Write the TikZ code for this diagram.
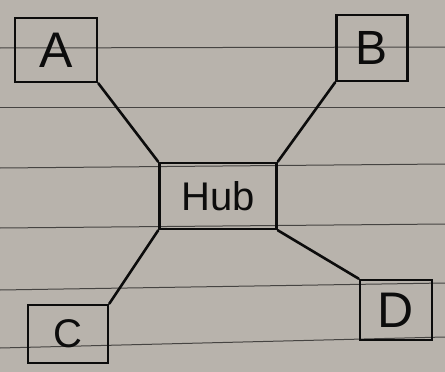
\documentclass[tikz,border=0pt]{standalone}
\usepackage{fontspec}
\setmainfont{Liberation Sans}
\definecolor{paper}{RGB}{184,179,172}
\definecolor{rule}{RGB}{70,68,66}
\definecolor{ink}{RGB}{12,12,12}
\begin{document}
\begin{tikzpicture}[x=1pt,y=-1pt,
  station/.style={draw=ink,line width=2.6pt,rectangle,inner sep=0pt,text=ink},
  link/.style={draw=ink,line width=2.6pt,line cap=round},
  ruling/.style={draw=rule,line width=1pt}]
\useasboundingbox (0,0) rectangle (445,372);
\fill[paper] (0,0) rectangle (445,372);
% ruled lines of the paper
\draw[ruling] (0,48) -- (445,47);
\draw[ruling] (0,107) -- (445,107);
\draw[ruling] (0,168) -- (445,164);
\draw[ruling] (0,228) -- (445,224);
\draw[ruling] (0,290) -- (445,283);
\draw[ruling] (0,348) -- (445,337);
% nodes
\node[station,minimum width=82pt,minimum height=64pt,font=\fontsize{50}{50}\selectfont] (A) at (56,50) {A};
\node[station,minimum width=71pt,minimum height=66pt,font=\fontsize{48}{48}\selectfont] (B) at (372,48) {B};
\node[station,minimum width=117pt,minimum height=66pt,font=\fontsize{40}{40}\selectfont] (H) at (218,196) {Hub};
\node[station,minimum width=80pt,minimum height=58pt,font=\fontsize{40}{40}\selectfont] (C) at (68,334) {C};
\node[station,minimum width=72pt,minimum height=60pt,font=\fontsize{50}{50}\selectfont] (D) at (396,310) {D};
% connectors
\draw[link] (A.south east) -- (H.north west);
\draw[link] (B.south west) -- (H.north east);
\draw[link] (C.north east) -- (H.south west);
\draw[link] (D.north west) -- (H.south east);
\end{tikzpicture}
\end{document}
